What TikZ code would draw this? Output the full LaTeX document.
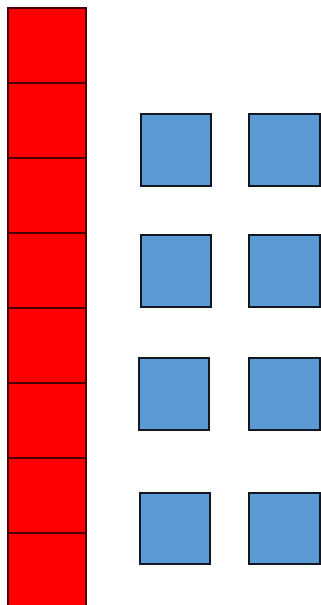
\documentclass[tikz,border=0pt]{standalone}
\definecolor{redfill}{HTML}{FF0000}
\definecolor{redline}{HTML}{4A0000}
\definecolor{bluefill}{HTML}{5B9BD5}
\definecolor{blueline}{HTML}{121722}
\tikzset{
  redsq/.style={draw=redline, fill=redfill, line width=2.2pt, minimum width=78pt, minimum height=75pt, inner sep=0pt, outer sep=0pt, anchor=north west},
  bluesq/.style={draw=blueline, fill=bluefill, line width=2.2pt, minimum width=70pt, minimum height=72pt, inner sep=0pt, outer sep=0pt, anchor=north west}
}
\begin{document}
\begin{tikzpicture}[x=1pt,y=-1pt]
\useasboundingbox (0,0) rectangle (321,605);
\fill[white] (0,0) rectangle (321,605);
\foreach \i in {0,...,7} {
  \node[redsq] (r\i) at (8,{8+75*\i}) {};
}
\node[bluesq] (b11) at (141,114) {};
\node[bluesq, minimum width=71pt] (b12) at (249,114) {};
\node[bluesq] (b21) at (141,235) {};
\node[bluesq, minimum width=71pt] (b22) at (249,235) {};
\node[bluesq] (b31) at (139,358) {};
\node[bluesq, minimum width=71pt] (b32) at (249,358) {};
\node[bluesq, minimum height=71pt] (b41) at (140,493) {};
\node[bluesq, minimum width=71pt, minimum height=71pt] (b42) at (249,493) {};
\end{tikzpicture}
\end{document}
